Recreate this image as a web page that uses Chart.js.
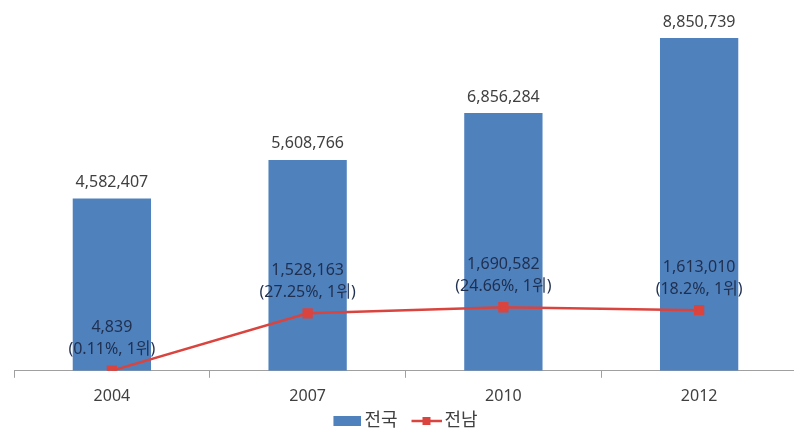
<!DOCTYPE html>
<html lang="ko">
<head>
<meta charset="UTF-8">
<title>전국 / 전남</title>
<script src="https://cdn.jsdelivr.net/npm/chart.js"></script>
<style>
    html, body { margin: 0; padding: 0; background: #fff; overflow: hidden; }
    #wrap { width: 805px; height: 428px; }
</style>
</head>
<body>
<div id="wrap"><canvas id="chart"></canvas></div>
<script>
    const years = ['2004', '2007', '2010', '2012'];
    const nationValues = [4582407, 5608766, 6856284, 8850739];
    const jeonnamValues = [4839, 1528163, 1690582, 1613010];
    const jeonnamNotes = ['(0.11%, 1위)', '(27.25%, 1위)', '(24.66%, 1위)', '(18.2%, 1위)'];

    const BLUE = '#4f81bd';
    const RED = '#d9443f';
    const FONT = "'Noto Sans', 'Noto Sans CJK KR', sans-serif";
    const LEGEND_FONT = 18;
    const LEGEND_BOX = 28;

    // legend icons, right-aligned in a canvas so they sit close to their text
    function icon(w, draw) {
        const c = document.createElement('canvas');
        c.width = LEGEND_BOX + LEGEND_FONT - 6; c.height = 10;
        const g = c.getContext('2d');
        g.translate(c.width - w, 0);
        draw(g, w);
        return c;
    }
    const icons = [
        icon(28, (g, w) => { g.fillStyle = BLUE; g.fillRect(0, 0, w, 10); }),
        icon(30, (g, w) => {
            g.strokeStyle = RED; g.lineWidth = 2.5;
            g.beginPath(); g.moveTo(0, 5); g.lineTo(w, 5); g.stroke();
            g.fillStyle = RED; g.fillRect(11, 1, 8, 8);
        })
    ];

    const labelPlugin = {
        id: 'valueLabels',
        afterDatasetsDraw(chart) {
            const ctx = chart.ctx;
            ctx.save();
            ctx.font = '16px ' + FONT;
            ctx.textAlign = 'center';
            ctx.textBaseline = 'middle';
            const bars = chart.getDatasetMeta(0).data;
            ctx.fillStyle = '#404040';
            bars.forEach((b, i) => {
                ctx.fillText(nationValues[i].toLocaleString('en-US'), b.x, b.y - 16);
            });
            const pts = chart.getDatasetMeta(1).data;
            ctx.fillStyle = '#1f2f4f';
            pts.forEach((p, i) => {
                ctx.fillText(jeonnamValues[i].toLocaleString('en-US'), p.x, p.y - 43);
                ctx.fillText(jeonnamNotes[i], p.x, p.y - 21);
            });
            ctx.restore();
        }
    };

    new Chart(document.getElementById('chart'), {
        data: {
            labels: years,
            datasets: [{
                type: 'bar',
                label: '전국',
                data: nationValues,
                backgroundColor: BLUE,
                barPercentage: 0.4,
                categoryPercentage: 1.0,
                order: 1
            }, {
                type: 'line',
                label: '전남',
                data: jeonnamValues,
                borderColor: RED,
                backgroundColor: RED,
                borderWidth: 2.5,
                pointStyle: 'rect',
                pointRadius: 5.5,
                tension: 0,
                order: 0
            }]
        },
        options: {
            responsive: true,
            maintainAspectRatio: false,
            animation: false,
            layout: { padding: { left: 0, right: 0, top: 0, bottom: -12 } },
            scales: {
                x: {
                    offset: true,
                    grid: { display: true, drawOnChartArea: false, tickLength: 7, color: '#a0a0a0' },
                    border: { color: '#a0a0a0', width: 1 },
                    ticks: { color: '#404040', font: { family: FONT, size: 16 }, padding: 9 },
                    afterFit: (scale) => { scale.height -= 13; }
                },
                y: {
                    min: 0, max: 9650000,
                    grid: { display: false },
                    border: { display: false },
                    ticks: { display: false },
                    afterFit: (scale) => { scale.width = 14; }
                }
            },
            plugins: {
                tooltip: { enabled: false },
                legend: {
                    position: 'bottom',
                    labels: {
                        usePointStyle: true,
                        pointStyleWidth: LEGEND_BOX,
                        boxHeight: 10,
                        padding: 10,
                        color: '#404040',
                        font: { family: FONT, size: LEGEND_FONT },
                        generateLabels: () => ['전국', '전남'].map((t, i) => ({
                            text: t, pointStyle: icons[i], datasetIndex: i,
                            fontColor: '#404040', hidden: false, lineWidth: 0
                        }))
                    }
                }
            }
        },
        plugins: [labelPlugin]
    });
</script>
</body>
</html>
